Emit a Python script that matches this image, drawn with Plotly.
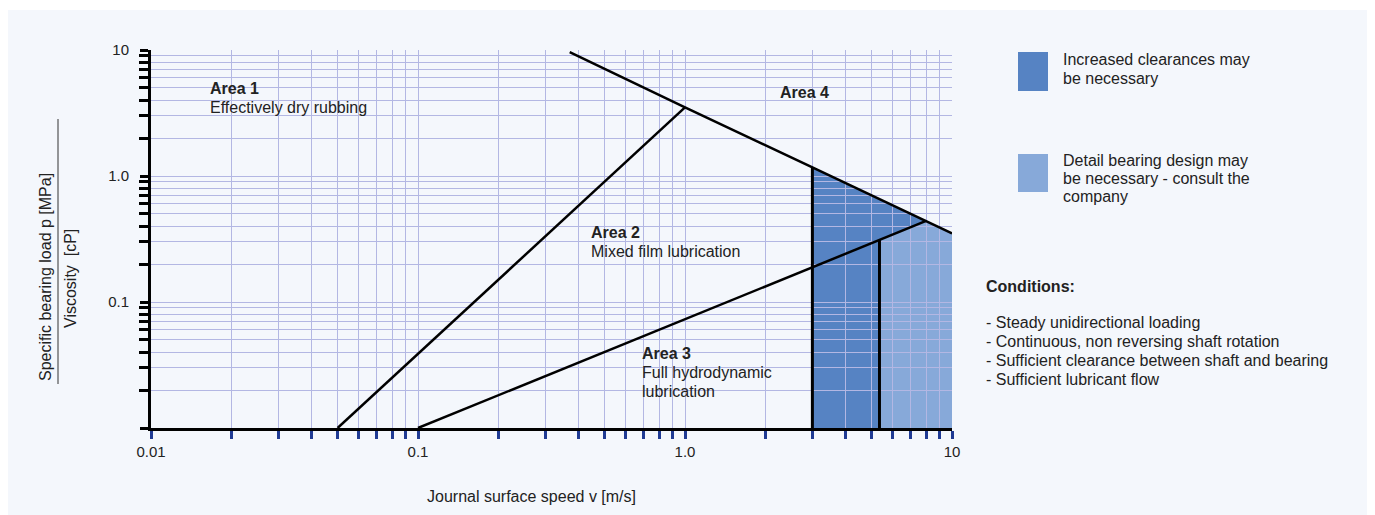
import plotly.graph_objects as go

# --- boundary lines (v in m/s, p/eta in MPa/cP) ---
limit_v = [0.37, 1.0, 3.0, 8.0, 10.0]
limit_p = [9.6, 3.5, 1.17, 0.44, 0.35]
mixed_v = [0.05, 1.0]
mixed_p = [0.01, 3.5]
hydro_v = [0.1, 3.0, 5.35, 8.0]
hydro_p = [0.01, 0.19, 0.31, 0.44]
edge1_v = [3.0, 3.0]
edge1_p = [0.01, 1.17]
edge2_v = [5.35, 5.35]
edge2_p = [0.01, 0.31]

# shaded zones (polygon corners)
zone_dark_v = [3.0, 3.0, 8.0, 5.35, 5.35]
zone_dark_p = [0.01, 1.17, 0.44, 0.31, 0.01]
zone_light_v = [5.35, 5.35, 8.0, 10.0, 10.0]
zone_light_p = [0.01, 0.31, 0.44, 0.35, 0.01]

# ticks
major_vals = [0.01, 0.1, 1.0, 10.0]
x_ticktext = ["0.01", "0.1", "1.0", "10"]
y_ticktext = ["", "0.1", "1.0", "10"]

# texts
area_texts = ["Area 1", "Effectively dry rubbing", "Area 4", "Area 2", "Mixed film lubrication",
              "Area 3", "Full hydrodynamic", "lubrication"]
legend_dark = ["Increased clearances may", "be necessary"]
legend_light = ["Detail bearing design may", "be necessary - consult the", "company"]
conditions_title = "Conditions:"
conditions = ["- Steady unidirectional loading",
              "- Continuous, non reversing shaft rotation",
              "- Sufficient clearance between shaft and bearing",
              "- Sufficient lubricant flow"]
x_title = "Journal surface speed v [m/s]"
y_num = "Specific bearing load p [MPa]"
y_den = "Viscosity  [cP]"

DARK = "#5683c3"
LIGHT = "#87a9d9"
GRID = "#b3b7e3"
BG = "#f4f7fc"
TXT = "#222222"
FONT = "Liberation Sans, Arial, sans-serif"

# plot area in page pixels (the page body adds an 8px margin)
L, R, T, B = 151, 952, 50, 428
W, H = 1375, 515
OFF = 8


def px(x):
    return (x - L) / (R - L)


def py(y):
    return (B - y) / (B - T)


def path(vs, ps):
    pts = ["%s%g,%g" % ("M" if i == 0 else "L", v, p) for i, (v, p) in enumerate(zip(vs, ps))]
    return " ".join(pts) + " Z"


fig = go.Figure()

for vs, ps, w in [(limit_v, limit_p, 2.5), (mixed_v, mixed_p, 2.5), (hydro_v, hydro_p, 2.5),
                  (edge1_v, edge1_p, 3), (edge2_v, edge2_p, 3)]:
    fig.add_trace(go.Scatter(x=vs, y=ps, mode="lines", line=dict(color="black", width=w),
                             hoverinfo="skip", showlegend=False))

shapes = [
    # page background
    dict(type="rect", xref="paper", yref="paper", x0=px(OFF), x1=px(1368), y0=py(W), y1=py(10),
         fillcolor=BG, line_width=0, layer="below"),
    dict(type="path", xref="x", yref="y", path=path(zone_dark_v, zone_dark_p),
         fillcolor=DARK, line_width=0, layer="below"),
    dict(type="path", xref="x", yref="y", path=path(zone_light_v, zone_light_p),
         fillcolor=LIGHT, line_width=0, layer="below"),
    # legend swatches
    dict(type="rect", xref="paper", yref="paper", x0=px(1018), x1=px(1048), y0=py(91), y1=py(52),
         fillcolor=DARK, line_width=0),
    dict(type="rect", xref="paper", yref="paper", x0=px(1018), x1=px(1048), y0=py(192), y1=py(154),
         fillcolor=LIGHT, line_width=0),
    # fraction bar of the y title
    dict(type="line", xref="paper", yref="paper", x0=px(58), x1=px(58), y0=py(384), y1=py(119),
         line=dict(color="#333333", width=1)),
]

annotations = []


def note(text, x, y, bold=False, size=16, **kw):
    anchor = kw.pop("xanchor", "left")
    if anchor == "left":
        x -= 2  # annotation box padding
    annotations.append(dict(text="<b>%s</b>" % text if bold else text, xref="paper", yref="paper",
                            x=px(x), y=py(y), xanchor=anchor, yanchor="middle",
                            showarrow=False, font=dict(family=FONT, size=size, color=TXT), **kw))


area_pos = [(210, 88, True), (210, 107, False), (780, 92, True), (591, 232, True), (591, 251, False),
            (642, 353, True), (642, 372, False), (642, 391, False)]
for t, (x, y, b) in zip(area_texts, area_pos):
    note(t, x, y, b)

for i, t in enumerate(legend_dark):
    note(t, 1063, 59 + 19 * i)
for i, t in enumerate(legend_light):
    note(t, 1063, 160 + 18.5 * i)

note(conditions_title, 986, 286, True)
for i, t in enumerate(conditions):
    note(t, 986, 322 + 19 * i)

note(x_title, 531, 496, xanchor="center")
note(y_num, 45, 277, xanchor="center", textangle=-90)
note(y_den, 70, 279, xanchor="center", textangle=-90)

minor_vals = [m * 10.0 ** e for e in (-2, -1, 0) for m in range(2, 10)]

common = dict(type="log", range=[-2, 1], showline=True, linecolor="black", linewidth=3,
              showgrid=True, gridcolor=GRID, gridwidth=1, tickmode="array", tickvals=major_vals,
              ticks="outside", ticklen=8, tickwidth=3, zeroline=False, layer="above traces",
              tickfont=dict(family=FONT, size=15, color="#222222"))

fig.update_layout(
    width=W - OFF, height=H - OFF,
    margin=dict(l=L - OFF, r=W - R, t=T - OFF, b=H - B, autoexpand=False),
    paper_bgcolor="white", plot_bgcolor=BG,
    showlegend=False,
    xaxis=dict(common, ticktext=x_ticktext, tickcolor="#1f3a93",
               minor=dict(tickvals=minor_vals, ticks="outside", ticklen=8, tickwidth=3,
                          tickcolor="#1f3a93", showgrid=True, gridcolor=GRID, gridwidth=1)),
    yaxis=dict(common, ticktext=y_ticktext, tickcolor="black", ticklabelstandoff=8,
               minor=dict(tickvals=minor_vals, ticks="outside", ticklen=9, tickwidth=3,
                          tickcolor="black", showgrid=True, gridcolor=GRID, gridwidth=1)),
    shapes=shapes,
    annotations=annotations,
)

fig.write_html("out.html")
